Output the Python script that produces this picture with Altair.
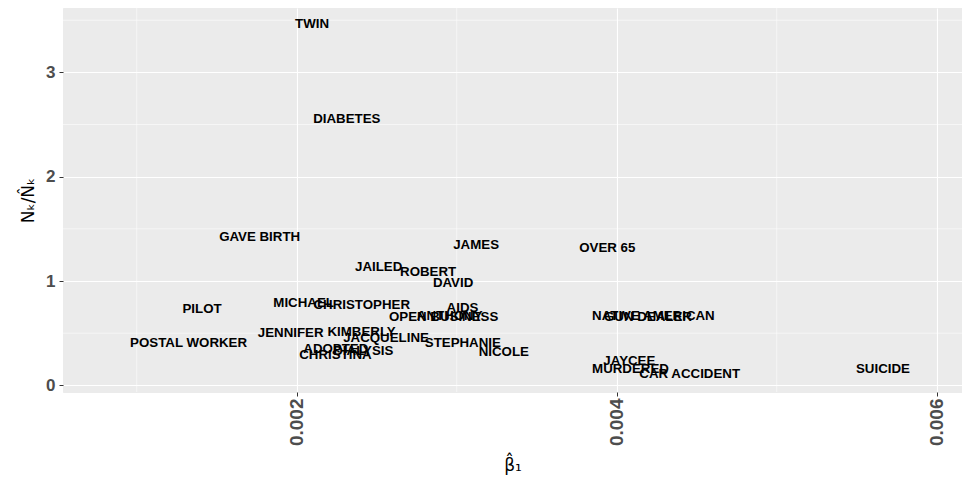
import altair as alt
import pandas as pd

labels = ["TWIN", "DIABETES", "GAVE BIRTH", "JAMES", "OVER 65", "JAILED", "ROBERT",
          "DAVID", "PILOT", "MICHAEL", "CHRISTOPHER", "AIDS", "OPEN BUSINESS", "ANTHONY",
          "JENNIFER", "KIMBERLY", "JACQUELINE", "STEPHANIE", "NICOLE", "ADOPTED",
          "DIALYSIS", "CHRISTINA", "POSTAL WORKER", "NATIVE AMERICAN", "GUN DEALER",
          "JAYCEE", "MURDERED", "CAR ACCIDENT", "SUICIDE"]
beta_hat = [0.002096, 0.002313, 0.001768, 0.003121, 0.003941, 0.002512, 0.002821,
            0.002977, 0.001408, 0.002043, 0.002406, 0.003036, 0.002918, 0.002956,
            0.001962, 0.002405, 0.002558, 0.003038, 0.003294, 0.002244,
            0.002416, 0.002242, 0.001324, 0.004229, 0.004195,
            0.004079, 0.004086, 0.004456, 0.005664]
ratio = [3.461, 2.553, 1.422, 1.345, 1.313, 1.137, 1.083,
         0.978, 0.729, 0.786, 0.770, 0.738, 0.658, 0.665,
         0.498, 0.514, 0.451, 0.409, 0.322, 0.345,
         0.329, 0.291, 0.409, 0.665, 0.652,
         0.233, 0.153, 0.108, 0.153]

x_ticks = [0.002, 0.004, 0.006]
y_ticks = [0, 1, 2, 3]
x_minor = [0.001, 0.003, 0.005]
y_minor = [0.5, 1.5, 2.5, 3.5]

x_domain = [0.000539, 0.006158]
y_domain = [-0.064, 3.617]

df = pd.DataFrame({"label": labels, "beta": beta_hat, "ratio": ratio})
xm = pd.DataFrame({"beta": x_minor})
ym = pd.DataFrame({"ratio": y_minor})

xs = alt.Scale(domain=x_domain, nice=False, zero=False)
ys = alt.Scale(domain=y_domain, nice=False, zero=False)

x_axis = alt.Axis(
    values=x_ticks, format=".3f", labelAngle=270, labelFontSize=19,
    labelPadding=2, title="β̂₁", titleX=449.5, titleY=73,
    titleAlign="center", titleBaseline="middle", titleFontSize=17,
    titleFontWeight="normal", titleColor="black", titleFont="DejaVu Sans")
y_axis = alt.Axis(
    values=y_ticks, format="d", labelFontSize=17, labelPadding=4,
    title="Nₖ/N̂ₖ", titleX=-35, titleY=192, titleAngle=270,
    titleAlign="center", titleBaseline="middle", titleFontSize=17,
    titleFontWeight="normal", titleColor="black", titleFont="DejaVu Sans")

vminor = alt.Chart(xm).mark_rule(color="white", strokeWidth=0.55).encode(
    x=alt.X("beta:Q", scale=xs, axis=x_axis)
)
hminor = alt.Chart(ym).mark_rule(color="white", strokeWidth=0.55).encode(
    y=alt.Y("ratio:Q", scale=ys, axis=y_axis)
)

text = alt.Chart(df).mark_text(
    font="Liberation Sans", fontWeight="bold", fontSize=13.3, color="black",
    align="center", baseline="middle"
).encode(
    x=alt.X("beta:Q", scale=xs, axis=x_axis),
    y=alt.Y("ratio:Q", scale=ys, axis=y_axis),
    text=alt.Text("label:N"),
)

chart = alt.layer(vminor, hminor, text).properties(
    width=899, height=384,
    autosize=alt.AutoSizeParams(type="none"),
    padding={"left": 55, "top": 0, "right": 0, "bottom": 85},
    background="white",
).configure_view(
    fill="#EBEBEB", stroke="#EBEBEB"
).configure_axis(
    domain=False, grid=True, gridColor="white", gridWidth=1.1,
    tickColor="#333333", tickSize=4, tickWidth=1,
    labelColor="#4D4D4D", labelFontWeight="bold", labelFont="Liberation Sans"
)

chart.save("out.html", embed_options={"renderer": "svg", "actions": False})
